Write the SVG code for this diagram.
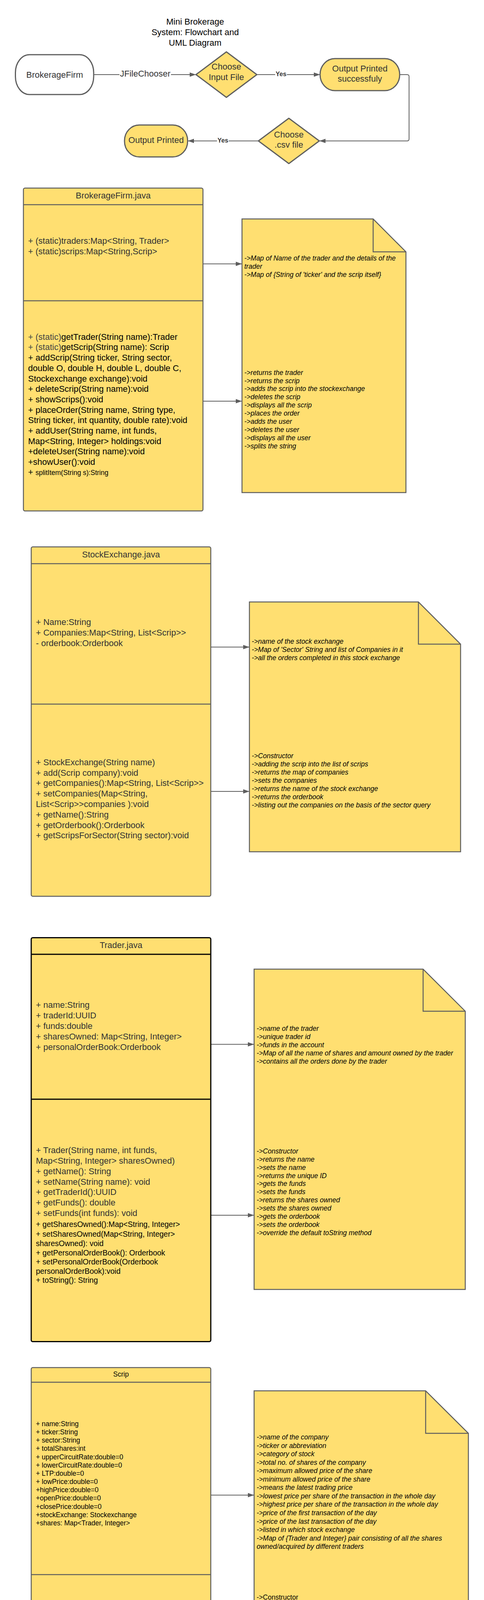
<svg xmlns="http://www.w3.org/2000/svg" width="1240" height="6517" viewBox="0 0 1240 6517">
<style>
.bg{fill:#FFFFFF}
.box{fill:#FFDF71;stroke:#5E5E5E;stroke-width:2.5}
.boxk{fill:#FFDF71;stroke:#000000;stroke-width:3}
.sep{stroke:#5E5E5E;stroke-width:2.5;fill:none}
.sepk{stroke:#000000;stroke-width:3;fill:none}
.term{fill:#FFFFFF;stroke:#5E5E5E;stroke-width:3}
.termy{fill:#FFDF71;stroke:#5E5E5E;stroke-width:3;stroke-linejoin:round}
.fold{fill:none;stroke:#5E5E5E;stroke-width:2.5}
.conn{fill:none;stroke:#5E5E5E;stroke-width:2}
.lblbg{fill:#FFFFFF}
text{font-family:"Liberation Sans",Arial,sans-serif}
.title{font-size:22px;fill:#000;text-anchor:middle}
.fc{font-size:22px;fill:#333;text-anchor:middle}
.lbl{font-size:16px;font-weight:bold;fill:#333;text-anchor:middle}
.hd{font-size:22px;fill:#333;text-anchor:middle}
.hds{font-size:17.5px;fill:#000;text-anchor:middle}
.c22{font-size:22px;fill:#333}
.c22k{font-size:22px;fill:#000}
.c19{font-size:19.5px;fill:#000}
.c17{font-size:17.5px;fill:#000}
.st{font-size:22px;fill:#444}
.ni{font-size:17.5px;font-style:italic;fill:#000}
.nr{font-size:17.5px;fill:#000}
</style>
<defs>
<marker id="arr" markerUnits="userSpaceOnUse" markerWidth="16" markerHeight="12" refX="16" refY="6" orient="auto">
<path d="M0,0.5 L16,6 L0,11.5 Z" fill="#5E5E5E"/>
</marker>
</defs>
<rect class="bg" x="0" y="0" width="1240" height="6517"/>

<g id="title">
<text class="title" x="500" y="63.4">Mini Brokerage</text>
<text class="title" x="500" y="90.4">System: Flowchart and</text>
<text class="title" x="500" y="117">UML Diagram</text>
</g>

<g id="connectors">
<path class="conn" d="M240,191 H502" marker-end="url(#arr)"/>
<path class="conn" d="M658,191 H820" marker-end="url(#arr)"/>
<path class="conn" d="M1024,191 H1043 Q1048,191 1048,196 V355.7 Q1048,360.7 1043,360.7 H818" marker-end="url(#arr)"/>
<path class="conn" d="M662,360.7 H481" marker-end="url(#arr)"/>
<rect class="lblbg" x="306" y="176" width="132" height="26"/>
<text class="fc" x="372" y="196">JFileChooser</text>
<rect class="lblbg" x="705" y="180" width="30" height="20"/>
<text class="lbl" x="720" y="195">Yes</text>
<rect class="lblbg" x="556" y="350" width="30" height="20"/>
<text class="lbl" x="571" y="365">Yes</text>
<path class="conn" d="M520,675.5 H620" marker-end="url(#arr)"/>
<path class="conn" d="M520,1027 H620" marker-end="url(#arr)"/>
<path class="conn" d="M540,1656.5 H639" marker-end="url(#arr)"/>
<path class="conn" d="M540,2026 H639" marker-end="url(#arr)"/>
<path class="conn" d="M540,2673.6 H651" marker-end="url(#arr)"/>
<path class="conn" d="M540,3111 H651" marker-end="url(#arr)"/>
<path class="conn" d="M540,3827.6 H651" marker-end="url(#arr)"/>
<path class="conn" d="M540,4332.6 H651" marker-end="url(#arr)"/>
<path class="conn" d="M540,5088.6 H631.4" marker-end="url(#arr)"/>
<path class="conn" d="M540,5468 H631.4" marker-end="url(#arr)"/>
<path class="conn" d="M560.3,5988.8 H659.7" marker-end="url(#arr)"/>
<path class="conn" d="M560.3,6226 H659.7" marker-end="url(#arr)"/>
</g>

<g id="node-brokeragefirm">
<rect class="term" x="39.5" y="140" width="200.5" height="102" rx="36" ry="46"/>
<text class="fc" x="140" y="198.7">BrokerageFirm</text>
</g>
<g id="node-choose-input">
<path class="termy" d="M580,132.7 L658,191 L580,249.3 L502,191 Z"/>
<text class="fc" x="580" y="178.4">Choose</text>
<text class="fc" x="580" y="205">Input File</text>
</g>
<g id="node-output-success">
<rect class="termy" x="820" y="150" width="204" height="82" rx="38" ry="41"/>
<text class="fc" x="922" y="182.7">Output Printed</text>
<text class="fc" x="922" y="209.4">successfuly</text>
</g>
<g id="node-choose-csv">
<path class="termy" d="M740,302.7 L818,360.7 L740,418.7 L662,360.7 Z"/>
<text class="fc" x="740" y="351.7">Choose</text>
<text class="fc" x="740" y="378.4">.csv file</text>
</g>
<g id="node-output-printed">
<rect class="termy" x="319" y="320" width="161.7" height="81.7" rx="38" ry="40"/>
<text class="fc" x="400" y="366">Output Printed</text>
</g>

<g id="class-brokeragefirm">
<rect class="box" x="60" y="481.5" width="460" height="826.5" rx="4"/>
<path class="sep" d="M60,524 H520 M60,770 H520"/>
<text class="hd" x="290" y="507.7">BrokerageFirm.java</text>
<text class="c22" x="72" y="623.7">+ (static)traders:Map&lt;String, Trader&gt;</text>
<text class="c22" x="72" y="650.7">+ (static)scrips:Map&lt;String,Scrip&gt;</text>
<text class="c22k" x="72" y="869.7"><tspan fill="#444">+ (static)</tspan>getTrader(String name):Trader</text>
<text class="c22k" x="72" y="896.4"><tspan fill="#444">+ (static)</tspan>getScrip(String name): Scrip</text>
<text class="c22k" x="72" y="923.1">+ addScrip(String ticker, String sector,</text>
<text class="c22k" x="72" y="949.8">double O, double H, double L, double C,</text>
<text class="c22k" x="72" y="976.5">Stockexchange exchange):void</text>
<text class="c22k" x="72" y="1003.2">+ deleteScrip(String name):void</text>
<text class="c22k" x="72" y="1029.9">+ showScrips():void</text>
<text class="c22k" x="72" y="1056.6">+ placeOrder(String name, String type,</text>
<text class="c22k" x="72" y="1083.3">String ticker, int quantity, double rate):void</text>
<text class="c22k" x="72" y="1110">+ addUser(String name, int funds,</text>
<text class="c22k" x="72" y="1136.7">Map&lt;String, Integer&gt; holdings:void</text>
<text class="c22k" x="72" y="1163.4">+deleteUser(String name):void</text>
<text class="c22k" x="72" y="1190.1">+showUser():void</text>
<text class="c22k" x="72" y="1216">+ <tspan font-size="17.5px">splitItem(String s):String</tspan></text>
</g>
<g id="note-brokeragefirm">
<path class="box" d="M620,560.5 H956 L1040,644.7 V1261 H620 Z"/>
<path class="fold" d="M956,560.5 V644.7 H1040"/>
<text class="ni" x="626" y="666.8">-&gt;Map of Name of the trader and the details of the</text>
<text class="ni" x="626" y="687.9">trader</text>
<text class="ni" x="626" y="708.9">-&gt;Map of {String of 'ticker' and the scrip itself}</text>
<text class="ni" x="626" y="959.6">-&gt;returns the trader</text>
<text class="ni" x="626" y="980.5">-&gt;returns the scrip</text>
<text class="ni" x="626" y="1001.4">-&gt;adds the scrip into the stockexchange</text>
<text class="ni" x="626" y="1022.3">-&gt;deletes the scrip</text>
<text class="ni" x="626" y="1043.2">-&gt;displays all the scrip</text>
<text class="ni" x="626" y="1064.1">-&gt;places the order</text>
<text class="ni" x="626" y="1085">-&gt;adds the user</text>
<text class="ni" x="626" y="1105.9">-&gt;deletes the user</text>
<text class="ni" x="626" y="1126.8">-&gt;displays all the user</text>
<text class="ni" x="626" y="1147.7">-&gt;splits the string</text>
</g>

<g id="class-stockexchange">
<rect class="box" x="80" y="1400" width="460" height="894.4" rx="4"/>
<path class="sep" d="M80,1443 H540 M80,1802.6 H540"/>
<text class="hd" x="310" y="1426.7">StockExchange.java</text>
<text class="c22" x="92" y="1599.7">+ Name:String</text>
<text class="c22" x="92" y="1626.7">+ Companies:Map&lt;String, List&lt;Scrip&gt;&gt;</text>
<text class="c22" x="92" y="1653.7">- orderbook:Orderbook</text>
<text class="c22" x="92" y="1958.7">+ StockExchange(String name)</text>
<text class="c22" x="92" y="1985.5">+ add(Scrip company):void</text>
<text class="c22" x="92" y="2012.3">+ getCompanies():Map&lt;String, List&lt;Scrip&gt;&gt;</text>
<text class="c22" x="92" y="2039.1">+ setCompanies(Map&lt;String,</text>
<text class="c22" x="92" y="2065.9">List&lt;Scrip&gt;&gt;companies ):void</text>
<text class="c22" x="92" y="2092.7">+ getName():String</text>
<text class="c22" x="92" y="2119.5">+ getOrderbook():Orderbook</text>
<text class="c22" x="92" y="2146.3">+ getScripsForSector(String sector):void</text>
</g>
<g id="note-stockexchange">
<path class="box" d="M639,1541 H1072 L1180,1649 V2180.6 H639 Z"/>
<path class="fold" d="M1072,1541 V1649 H1180"/>
<text class="ni" x="645" y="1648.1">-&gt;name of the stock exchange</text>
<text class="ni" x="645" y="1669.1">-&gt;Map of 'Sector' String and list of Companies in it</text>
<text class="ni" x="645" y="1690.1">-&gt;all the orders completed in this stock exchange</text>
<text class="ni" x="645" y="1941.1">-&gt;Constructor</text>
<text class="ni" x="645" y="1962">-&gt;adding the scrip into the list of scrips</text>
<text class="ni" x="645" y="1982.9">-&gt;returns the map of companies</text>
<text class="ni" x="645" y="2003.8">-&gt;sets the companies</text>
<text class="ni" x="645" y="2024.7">-&gt;returns the name of the stock exchange</text>
<text class="ni" x="645" y="2045.6">-&gt;returns the orderbook</text>
<text class="ni" x="645" y="2066.5">-&gt;listing out the companies on the basis of the sector query</text>
</g>

<g id="class-trader">
<rect class="boxk" x="80" y="2400.5" width="460" height="1034" rx="4"/>
<path class="sepk" d="M80,2443 H540 M80,2814 H540"/>
<text class="hd" x="310" y="2427.3">Trader.java</text>
<text class="c22" x="92" y="2580.3">+ name:String</text>
<text class="c22" x="92" y="2607.2">+ traderId:UUID</text>
<text class="c22" x="92" y="2634.1">+ funds:double</text>
<text class="c22" x="92" y="2661">+ sharesOwned: Map&lt;String, Integer&gt;</text>
<text class="c22" x="92" y="2687.9">+ personalOrderBook:Orderbook</text>
<text class="c22" x="92" y="2952.2">+ Trader(String name, int funds,</text>
<text class="c22" x="92" y="2978.7">Map&lt;String, Integer&gt; sharesOwned)</text>
<text class="c22" x="92" y="3005.7">+ getName(): String</text>
<text class="c22" x="92" y="3032.7">+ setName(String name): void</text>
<text class="c22" x="92" y="3059.2">+ getTraderId():UUID</text>
<text class="c22" x="92" y="3085.7">+ getFunds(): double</text>
<text class="c22" x="92" y="3112.7">+ setFunds(int funds): void</text>
<text class="c19" x="92" y="3140.8">+  getSharesOwned():Map&lt;String, Integer&gt;</text>
<text class="c19" x="92" y="3166.3">+ setSharesOwned(Map&lt;String, Integer&gt;</text>
<text class="c19" x="92" y="3189.8">sharesOwned): void</text>
<text class="c19" x="92" y="3213.8">+ getPersonalOrderBook(): Orderbook</text>
<text class="c19" x="92" y="3237.4">+ setPersonalOrderBook(Orderbook</text>
<text class="c19" x="92" y="3260.8">personalOrderBook):void</text>
<text class="c19" x="92" y="3283.8">+ toString(): String</text>
</g>
<g id="note-trader">
<path class="box" d="M651,2481 H1084 L1192,2588.7 V3301 H651 Z"/>
<path class="fold" d="M1084,2481 V2588.7 H1192"/>
<text class="ni" x="657.5" y="2639.1">-&gt;name of the trader</text>
<text class="ni" x="657.5" y="2660.1">-&gt;unique trader id</text>
<text class="ni" x="657.5" y="2681.1">-&gt;funds in the account</text>
<text class="ni" x="657.5" y="2702.1">-&gt;Map of all the name of shares and amount owned by the trader</text>
<text class="ni" x="657.5" y="2723.1">-&gt;contains all the orders done by the trader</text>
<text class="ni" x="657.5" y="2952.8">-&gt;Constructor</text>
<text class="ni" x="657.5" y="2973.7">-&gt;returns the name</text>
<text class="ni" x="657.5" y="2994.6">-&gt;sets the name</text>
<text class="ni" x="657.5" y="3015.5">-&gt;returns the unique ID</text>
<text class="ni" x="657.5" y="3036.4">-&gt;gets the funds</text>
<text class="ni" x="657.5" y="3057.3">-&gt;sets the funds</text>
<text class="ni" x="657.5" y="3078.2">-&gt;returns the shares owned</text>
<text class="ni" x="657.5" y="3099.1">-&gt;sets the shares owned</text>
<text class="ni" x="657.5" y="3120">-&gt;gets the orderbook</text>
<text class="ni" x="657.5" y="3140.9">-&gt;sets the orderbook</text>
<text class="ni" x="657.5" y="3161.8">-&gt;override the default toString method</text>
</g>

<g id="class-scrip">
<rect class="box" x="80" y="3501" width="460" height="1232.6" rx="4"/>
<path class="sep" d="M80,3538.4 H540 M80,4031 H540"/>
<text class="hds" x="310" y="3523.9">Scrip</text>
<text class="c17" x="92" y="3650.9">+ name:String</text>
<text class="c17" x="92" y="3672.1">+ ticker:String</text>
<text class="c17" x="92" y="3693.2">+ sector:String</text>
<text class="c17" x="92" y="3714.4">+ totalShares:int</text>
<text class="c17" x="92" y="3735.6">+ upperCircuitRate:double=0</text>
<text class="c17" x="92" y="3756.8">+ lowerCircuitRate:double=0</text>
<text class="c17" x="92" y="3777.9">+ LTP:double=0</text>
<text class="c17" x="92" y="3799.1">+ lowPrice:double=0</text>
<text class="c17" x="92" y="3820.3">+highPrice:double=0</text>
<text class="c17" x="92" y="3841.4">+openPrice:double=0</text>
<text class="c17" x="92" y="3862.6">+closePrice:double=0</text>
<text class="c17" x="92" y="3883.8">+stockExchange: Stockexchange</text>
<text class="c17" x="92" y="3904.9">+shares: Map&lt;Trader, Integer&gt;</text>
<text class="c17" x="92" y="4143.6">+Scrip( String ticker, String sector, double</text>
<text class="c17" x="92" y="4164.7">upperCircuitRate, double lowerCircuitRate, double LTP,</text>
<text class="c17" x="92" y="4185.9">double lowPrice, double highPrice, double openPrice,</text>
<text class="c17" x="92" y="4207">double closePrice, StockExchange stockExchange)</text>
<text class="c17" x="92" y="4228.1">+ Scrip()</text>
<text class="c17" x="92" y="4249.3">+Scrip(StockExchange exchange, String ticker, String</text>
<text class="c17" x="92" y="4270.4">sector)</text>
<text class="c17" x="92" y="4291.5">+Scrip(String name ,String ticker, String sector, double</text>
<text class="c17" x="92" y="4312.6">O, double H, double L, double C)</text>
<text class="c17" x="92" y="4333.8">+getName():String</text>
<text class="c17" x="92" y="4354.9">+getTicker():String</text>
<text class="c17" x="92" y="4376">+ getSector():String</text>
<text class="c17" x="92" y="4397.2">+getTotalShares():int</text>
<text class="c17" x="92" y="4418.3">+getUpperCircuitRate():double</text>
<text class="c17" x="92" y="4439.4">+getLowerCircuitRate():double</text>
<text class="c17" x="92" y="4460.6">+getStockExchange():Stockexchange</text>
<text class="c17" x="92" y="4481.7">+getLTP():double</text>
<text class="c17" x="92" y="4502.8">+setLTP(int LTP):void</text>
<text class="c17" x="92" y="4523.9">+getLowPrice():double</text>
<text class="c17" x="92" y="4545.1">+getHighPrice():double</text>
<text class="c17" x="92" y="4566.2">+getOpenPrice():double</text>
<text class="c17" x="92" y="4587.3">+getClosePrice():double</text>
<text class="c17" x="92" y="4608.5">+printScrip():String</text>
<text class="c17" x="92" y="4629.6">+toString():String</text>
</g>
<g id="note-scrip">
<path class="box" d="M651,3560.6 H1090.5 L1200,3669.3 V4601 H651 Z"/>
<path class="fold" d="M1090.5,3560.6 V3669.3 H1200"/>
<text class="ni" x="657.5" y="3685.1">-&gt;name of the company</text>
<text class="ni" x="657.5" y="3706.6">-&gt;ticker or abbreviation</text>
<text class="ni" x="657.5" y="3728.2">-&gt;category of stock</text>
<text class="ni" x="657.5" y="3749.7">-&gt;total no. of shares of the company</text>
<text class="ni" x="657.5" y="3771.3">-&gt;maximum allowed price of the share</text>
<text class="ni" x="657.5" y="3792.8">-&gt;minimum allowed price of the share</text>
<text class="ni" x="657.5" y="3814.3">-&gt;means the latest trading price</text>
<text class="ni" x="657.5" y="3835.9">-&gt;lowest price per share of the transaction in the whole day</text>
<text class="ni" x="657.5" y="3857.4">-&gt;highest price per share of the transaction in the whole day</text>
<text class="ni" x="657.5" y="3879">-&gt;price of the first transaction of the day</text>
<text class="ni" x="657.5" y="3900.5">-&gt;price of the last transaction of the day</text>
<text class="ni" x="657.5" y="3922">-&gt;listed in which stock exchange</text>
<text class="ni" x="657.5" y="3943.6">-&gt;Map of {Trader and Integer} pair consisting of all the shares</text>
<text class="ni" x="657.5" y="3965.1">owned/acquired by different traders</text>
<text class="nr" x="657.5" y="4094.7">-&gt;Constructor</text>
<text class="nr" x="657.5" y="4116.3">-&gt;Constructor</text>
<text class="nr" x="657.5" y="4137.9">-&gt;Constructor</text>
<text class="nr" x="657.5" y="4159.5">-&gt;Constructor</text>
<text class="nr" x="657.5" y="4181.1">-&gt;returns the name</text>
<text class="nr" x="657.5" y="4202.7">-&gt;returns the ticker</text>
<text class="nr" x="657.5" y="4224.3">-&gt;returns the sector</text>
<text class="nr" x="657.5" y="4245.9">-&gt;returns the total shares</text>
<text class="nr" x="657.5" y="4267.5">-&gt;returns the upper circuit rate</text>
<text class="nr" x="657.5" y="4289.1">-&gt;returns the lower circuit rate</text>
<text class="nr" x="657.5" y="4310.7">-&gt;returns the stock exchange</text>
<text class="nr" x="657.5" y="4332.3">-&gt;returns the latest trading price</text>
<text class="nr" x="657.5" y="4353.9">-&gt;sets the latest trading price</text>
<text class="nr" x="657.5" y="4375.5">-&gt;returns the low price</text>
<text class="nr" x="657.5" y="4397.1">-&gt;returns the high price</text>
<text class="nr" x="657.5" y="4418.7">-&gt;returns the low price</text>
<text class="nr" x="657.5" y="4440.3">-&gt;returns the close price</text>
<text class="nr" x="657.5" y="4461.9">-&gt;prints the string in formatted way</text>
<text class="nr" x="657.5" y="4483.5">-&gt; overrides the toString method</text>
</g>

<g id="class-order">
<rect class="box" x="80" y="4799.4" width="460" height="901" rx="4"/>
<path class="sep" d="M80,4837.6 H540 M80,5237 H540"/>
<text class="hds" x="310" y="4822.1">Order.java</text>
<text class="c17" x="92" y="4964.6">+ trader:String</text>
<text class="c17" x="92" y="4986.1">+ orderType:String</text>
<text class="c17" x="92" y="5007.6">+scrip:Scrip</text>
<text class="c17" x="92" y="5029.1">+quantity:int</text>
<text class="c17" x="92" y="5050.6">+rate:double</text>
<text class="c17" x="92" y="5072.1">+askPrice:int</text>
<text class="c17" x="92" y="5093.6">+bidPrice:int</text>
<text class="c17" x="92" y="5364.8">+ Order(String trader, String orderType, Scrip scrip, int</text>
<text class="c17" x="92" y="5386.3">quantity, double rate, int askPrice, int bidPrice)</text>
<text class="c17" x="92" y="5407.8">+getTrader():String</text>
<text class="c17" x="92" y="5429.3">+getOrderType():String</text>
<text class="c17" x="92" y="5450.8">+getScrip():Scrip</text>
<text class="c17" x="92" y="5472.3">+getQuantity():int</text>
<text class="c17" x="92" y="5493.8">+setQuantity(int quantity):void</text>
<text class="c17" x="92" y="5515.3">+ getRate():double</text>
<text class="c17" x="92" y="5536.8">+printOrder():String</text>
<text class="c17" x="92" y="5558.3">+toString():String</text>
</g>
<g id="note-order">
<path class="box" d="M631.4,4901 H1070 L1179.3,5010.6 V5660.5 H631.4 Z"/>
<path class="fold" d="M1070,4901 V5010.6 H1179.3"/>
<text class="ni" x="637.5" y="5048.8">-&gt;trader name who initialised the order</text>
<text class="ni" x="637.5" y="5070.4">-&gt; orderType as in buy-order or sell-order</text>
<text class="ni" x="637.5" y="5092">-&gt;company name</text>
<text class="ni" x="637.5" y="5113.6">-&gt;quantity of shares in the order</text>
<text class="ni" x="637.5" y="5135.2">-&gt;rate at which the transaction is taking place</text>
<text class="nr" x="637.5" y="5156.8">-&gt;askPice</text>
<text class="nr" x="637.5" y="5178.4">-&gt;bidPrice</text>
<text class="nr" x="637.5" y="5329.6">-&gt;Constructor</text>
<text class="nr" x="637.5" y="5351.2">-&gt;returns the trader</text>
<text class="nr" x="637.5" y="5372.8">-&gt;returns the order type</text>
<text class="nr" x="637.5" y="5394.4">-&gt;returns the scrip</text>
<text class="nr" x="637.5" y="5416">-&gt;returns rhe quantity</text>
<text class="nr" x="637.5" y="5437.6">-&gt;sets the quantity</text>
<text class="nr" x="637.5" y="5459.2">-&gt;reurns the rate</text>
<text class="nr" x="637.5" y="5480.8">-&gt;prints the string in formatted way</text>
<text class="nr" x="637.5" y="5502.4">-&gt; overrides the toString method</text>
</g>

<g id="class-orderbook">
<rect class="box" x="80" y="5780.7" width="480.3" height="695.3" rx="4"/>
<path class="sep" d="M80,5818 H560.3 M80,6100.5 H560.3"/>
<text class="hds" x="320" y="5803.6">Orderbook.java</text>
<text class="c17" x="92" y="5939.1">+ <tspan class="st">(static)</tspan>orders:Map&lt;Trader, List&lt;Order&gt;&gt;</text>
<text class="c17" x="92" y="5965.1">+ <tspan class="st">(static)</tspan>closedOrders:List&lt;Order&gt;</text>
<text class="c17" x="92" y="6217.5">+ getOrders():Map&lt;Trader, List&lt;Order&gt;&gt;</text>
<text class="c17" x="92" y="6242.1">+ <tspan class="st">(static)</tspan>setOrders(Map&lt;Trader, List&lt;Order&gt;&gt;</text>
<text class="c17" x="92" y="6265.7">orders):void</text>
<text class="c17" x="92" y="6291.1">+ <tspan class="st">(static)</tspan>addOrder(Order order):void</text>
<text class="c17" x="92" y="6317.7">+ <tspan class="st">(static)</tspan>showOrderBook():void</text>
<text class="c17" x="92" y="6344.1">+<tspan class="st">(static)</tspan> showOrdersForTrader(Trader trader):void</text>
<text class="c17" x="92" y="6367.1">+ ordersCompletion() :void</text>
</g>
<g id="note-orderbook">
<path class="box" d="M659.7,5881 H1080.5 L1180,5980 V6380.5 H659.7 Z"/>
<path class="fold" d="M1080.5,5881 V5980 H1180"/>
<text class="ni" x="666" y="5984.9">-&gt; Map of traders and the list of orders for this trader</text>
<text class="ni" x="666" y="6006.3">-&gt;contains the completed orders</text>
<text class="nr" x="666" y="6157.1">-&gt;returns the List of orders</text>
<text class="nr" x="666" y="6178.6">-&gt;sets the order</text>
<text class="nr" x="666" y="6200.1">-&gt;adds the order into the list</text>
<text class="nr" x="666" y="6221.6">-&gt;displays the orderbook</text>
<text class="nr" x="666" y="6243.1">-&gt;displays the orders for the trader</text>
<text class="nr" x="666" y="6264.6">-&gt;to implement the order completion</text>
</g>
</svg>
